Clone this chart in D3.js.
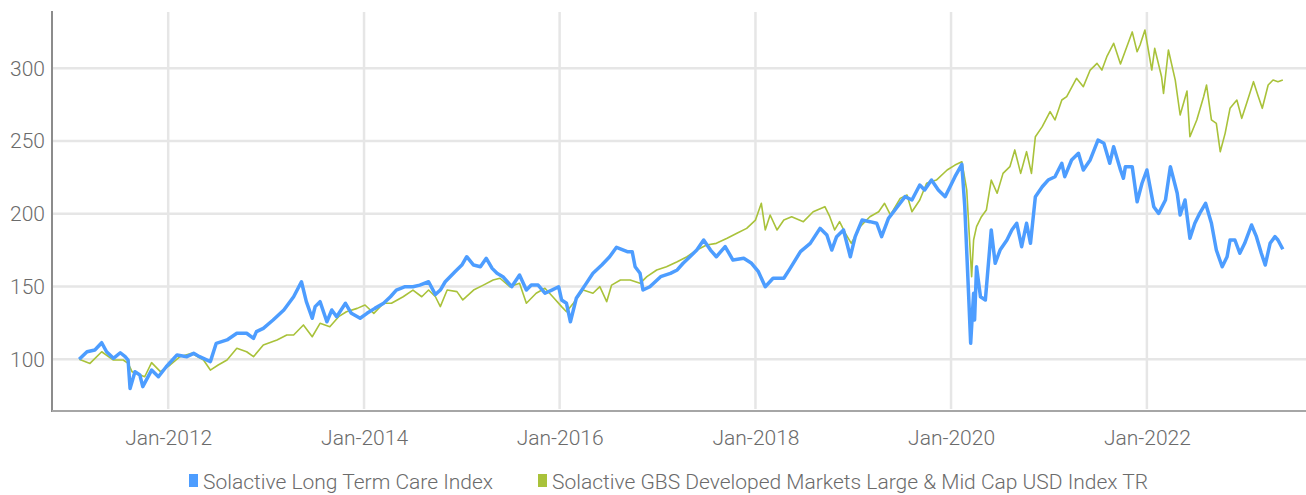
<!DOCTYPE html>
<html>
<head>
<meta charset="utf-8">
<script src="https://cdn.jsdelivr.net/npm/d3@7"></script>
<style>
    body { margin: 0; background: #fff; }
    text { font-family: Roboto, "DejaVu Sans Condensed", sans-serif; font-weight: 300; fill: #6b6b6b; }
</style>
</head>
<body>
<div id="chart"></div>
<script>
//** Long Term Care index vs developed markets (rebased to 100) */

var seriesNames = ["Solactive Long Term Care Index", "Solactive GBS Developed Markets Large & Mid Cap USD Index TR"];

// dates as decimal years
var careYears = [2011.09, 2011.17, 2011.25, 2011.32, 2011.37, 2011.44, 2011.51, 2011.56, 2011.59, 2011.61,
    2011.66, 2011.71, 2011.74, 2011.83, 2011.90, 2011.98, 2012.09, 2012.19, 2012.26, 2012.32,
    2012.43, 2012.49, 2012.60, 2012.70, 2012.80, 2012.87, 2012.90, 2012.97, 2013.07, 2013.18,
    2013.28, 2013.36, 2013.41, 2013.47, 2013.50, 2013.55, 2013.62, 2013.67, 2013.72, 2013.81,
    2013.87, 2013.96, 2014.03, 2014.11, 2014.20, 2014.27, 2014.33, 2014.42, 2014.50, 2014.57,
    2014.66, 2014.73, 2014.78, 2014.83, 2014.93, 2015.00, 2015.05, 2015.12, 2015.19, 2015.25,
    2015.31, 2015.36, 2015.42, 2015.51, 2015.59, 2015.66, 2015.71, 2015.78, 2015.85, 2015.92,
    2015.99, 2016.02, 2016.07, 2016.11, 2016.17, 2016.26, 2016.34, 2016.43, 2016.51, 2016.58,
    2016.69, 2016.74, 2016.77, 2016.82, 2016.85, 2016.92, 2017.03, 2017.13, 2017.20, 2017.26,
    2017.33, 2017.40, 2017.47, 2017.54, 2017.60, 2017.69, 2017.77, 2017.88, 2017.96, 2018.03,
    2018.10, 2018.18, 2018.29, 2018.35, 2018.46, 2018.56, 2018.66, 2018.73, 2018.78, 2018.83,
    2018.90, 2018.97, 2019.02, 2019.09, 2019.17, 2019.24, 2019.29, 2019.36, 2019.44, 2019.53,
    2019.60, 2019.68, 2019.73, 2019.80, 2019.87, 2019.94, 2019.99, 2020.04, 2020.11, 2020.14,
    2020.18, 2020.20, 2020.23, 2020.24, 2020.26, 2020.30, 2020.35, 2020.41, 2020.45, 2020.50,
    2020.57, 2020.62, 2020.67, 2020.72, 2020.77, 2020.81, 2020.86, 2020.93, 2020.99, 2021.06,
    2021.13, 2021.16, 2021.23, 2021.30, 2021.35, 2021.42, 2021.50, 2021.56, 2021.62, 2021.66,
    2021.73, 2021.76, 2021.78, 2021.85, 2021.90, 2021.95, 2022.00, 2022.07, 2022.12, 2022.19,
    2022.24, 2022.31, 2022.34, 2022.39, 2022.44, 2022.49, 2022.54, 2022.60, 2022.66, 2022.71,
    2022.77, 2022.82, 2022.85, 2022.90, 2022.95, 2023.00, 2023.07, 2023.12, 2023.17, 2023.21,
    2023.26, 2023.31, 2023.34, 2023.39];
var careValues = [100, 105.2, 106.4, 111.4, 105.2, 100.7, 104.5, 101.8, 99.5, 80,
    91.5, 89.2, 81.2, 92.6, 88, 94.9, 103, 101.8, 104.1, 101.8,
    98.4, 111, 113.3, 117.9, 117.9, 114.4, 119, 121.3, 127, 133.9,
    143, 153.3, 139.6, 128.2, 136.2, 139.6, 125.8, 133.9, 129.3, 138.5,
    131.6, 128.2, 131.6, 135, 138.5, 143, 147.6, 149.9, 149.9, 151,
    153.3, 144.5, 147.6, 153.3, 160.2, 164.8, 170.5, 164.8, 163.6, 169.4,
    162.5, 159.1, 156.8, 149.9, 157.9, 147.6, 151, 151, 145.4, 147.6,
    149.9, 140.8, 138.5, 125.8, 141.9, 151, 159.1, 164.8, 170.5, 177,
    174, 174, 163.6, 159.1, 147.6, 149.9, 156.8, 159.1, 161.4, 166,
    170.5, 175.1, 182, 175.1, 170.5, 177.4, 168.2, 169.4, 166, 160.2,
    149.9, 155.7, 155.7, 162, 174, 179.7, 190, 185.4, 175.1, 184.3,
    188.9, 170.5, 184.3, 195.7, 194.6, 193.5, 184.3, 196.9, 203.8, 211.8,
    209.5, 219.8, 216.4, 223.2, 216.4, 211.8, 218.6, 225.5, 234, 204.9,
    143, 111, 145.4, 127, 163.6, 143, 140.8, 188.9, 166, 175.1,
    182, 188.9, 193.5, 177.4, 193.5, 179.7, 211.8, 218.6, 223.2, 225.5,
    234.7, 225.5, 237, 241.6, 230.1, 237, 250.7, 248.5, 234.7, 246.1,
    230.1, 224.4, 232.4, 232.4, 208.3, 221, 230.1, 204.9, 200.3, 209.5,
    232.4, 214.1, 199.2, 209.5, 183.2, 193.5, 200.3, 207.2, 193.5, 175.1,
    163.6, 170.5, 182, 182, 172.9, 179.7, 192.3, 184.3, 172.9, 164.8,
    179.7, 184.3, 182, 175.6];

var marketYears = [2011.09, 2011.20, 2011.32, 2011.44, 2011.54, 2011.59, 2011.63, 2011.76, 2011.83, 2011.92,
    2012.02, 2012.12, 2012.24, 2012.36, 2012.43, 2012.51, 2012.60, 2012.70, 2012.80, 2012.87,
    2012.97, 2013.11, 2013.21, 2013.28, 2013.38, 2013.47, 2013.55, 2013.65, 2013.74, 2013.82,
    2013.93, 2014.01, 2014.10, 2014.20, 2014.28, 2014.40, 2014.50, 2014.59, 2014.66, 2014.73,
    2014.78, 2014.85, 2014.95, 2015.01, 2015.12, 2015.22, 2015.32, 2015.39, 2015.49, 2015.59,
    2015.66, 2015.76, 2015.85, 2015.93, 2016.02, 2016.07, 2016.14, 2016.24, 2016.34, 2016.41,
    2016.48, 2016.53, 2016.62, 2016.72, 2016.82, 2016.89, 2016.99, 2017.09, 2017.20, 2017.30,
    2017.40, 2017.50, 2017.60, 2017.71, 2017.81, 2017.91, 2018.00, 2018.06, 2018.10, 2018.15,
    2018.22, 2018.29, 2018.37, 2018.49, 2018.59, 2018.71, 2018.76, 2018.81, 2018.86, 2018.92,
    2018.98, 2019.07, 2019.17, 2019.26, 2019.32, 2019.38, 2019.48, 2019.55, 2019.60, 2019.68,
    2019.75, 2019.85, 2019.96, 2020.04, 2020.11, 2020.16, 2020.21, 2020.23, 2020.26, 2020.31,
    2020.36, 2020.41, 2020.47, 2020.53, 2020.60, 2020.65, 2020.71, 2020.77, 2020.82, 2020.86,
    2020.93, 2021.01, 2021.06, 2021.13, 2021.18, 2021.28, 2021.35, 2021.42, 2021.49, 2021.54,
    2021.59, 2021.66, 2021.73, 2021.85, 2021.90, 2021.93, 2021.98, 2022.05, 2022.08, 2022.15,
    2022.17, 2022.22, 2022.29, 2022.34, 2022.41, 2022.44, 2022.51, 2022.58, 2022.61, 2022.66,
    2022.71, 2022.75, 2022.80, 2022.85, 2022.92, 2022.97, 2023.02, 2023.09, 2023.14, 2023.18,
    2023.24, 2023.29, 2023.34, 2023.39];
var marketValues = [100, 97.2, 105.2, 99.5, 99.5, 97.2, 91.5, 88, 97.7, 91.5,
    96.1, 101.8, 104.1, 99.5, 92.6, 96.1, 99.5, 107.6, 105.2, 101.8,
    109.8, 113.3, 116.7, 116.7, 123.6, 115.5, 124.7, 122.4, 129.3, 132.7,
    135, 137.3, 131.6, 138.5, 138.5, 143, 147.6, 143, 147.6, 143,
    136.2, 147.6, 146.5, 140.8, 147.6, 151, 154.5, 155.7, 149.9, 152.2,
    138.5, 145.4, 148.8, 143, 136.2, 132.7, 138.5, 147.6, 145.4, 149.9,
    139.6, 151, 154.5, 154.5, 152.2, 156.8, 161.4, 163.6, 167.1, 170.5,
    175.1, 178.6, 179.7, 183.2, 186.6, 190, 195.7, 207.2, 188.9, 199.2,
    188.9, 195.7, 198, 194.6, 201.4, 204.9, 198, 188.9, 194.6, 186.6,
    179.7, 191.2, 198, 201.4, 207.2, 199.2, 210.6, 212.9, 201.4, 209.5,
    221, 223.2, 230.1, 233.5, 235.8, 216.4, 156.8, 182, 191.2, 198,
    202.6, 223.2, 214.1, 227.8, 232.4, 243.9, 227.8, 242.7, 227.8, 253,
    259.9, 270.2, 264.5, 278.2, 280.5, 293.1, 287.4, 298.8, 303.4, 298.8,
    308, 317.2, 303, 325, 311.4, 316, 326.3, 298.8, 313.7, 294.2,
    282.8, 312.6, 291.9, 267.9, 284.4, 253, 264.5, 280.5, 288.5, 264.5,
    262.2, 242.7, 255.3, 272.5, 278.2, 265.6, 276, 290.8, 280.5, 272.5,
    288.5, 292, 290.8, 292];

var yTicks = [100, 150, 200, 250, 300];
var xTickYears = [2012, 2014, 2016, 2018, 2020, 2022];

function yearToDate(t) {
    var y = Math.floor(t);
    var a = Date.UTC(y, 0, 1);
    var b = Date.UTC(y + 1, 0, 1);
    return new Date(a + (t - y) * (b - a));
}

function makeChart() {
    var svgWidth = 1306;
    var svgHeight = 495;

    var plot = { left: 53, right: 1306, top: 12, bottom: 411 };

    var svg = d3
        .select("#chart")
        .append("svg")
        .attr("width", svgWidth)
        .attr("height", svgHeight);

    // scales
    var xScale = d3
        .scaleUtc()
        .domain([yearToDate(2010.822), yearToDate(2023.627)])
        .range([plot.left, plot.right]);
    var yScale = d3
        .scaleLinear()
        .domain([64.47, 338.7])
        .range([plot.bottom, plot.top]);

    var careData = careYears.map((t, i) => ({ date: yearToDate(t), value: careValues[i] }));
    var marketData = marketYears.map((t, i) => ({ date: yearToDate(t), value: marketValues[i] }));
    var tickDates = xTickYears.map((y) => yearToDate(y));

    // gridlines
    svg.append("g")
        .selectAll("line")
        .data(yTicks)
        .join("line")
        .attr("x1", plot.left)
        .attr("x2", plot.right)
        .attr("y1", (d) => yScale(d))
        .attr("y2", (d) => yScale(d))
        .attr("stroke", "#e6e6e6")
        .attr("stroke-width", 2.5);
    svg.append("g")
        .selectAll("line")
        .data(tickDates)
        .join("line")
        .attr("x1", (d) => xScale(d))
        .attr("x2", (d) => xScale(d))
        .attr("y1", plot.top)
        .attr("y2", plot.bottom - 2)
        .attr("stroke", "#e6e6e6")
        .attr("stroke-width", 2.5);

    // axes
    var yAxis = d3.axisLeft(yScale).tickValues(yTicks).tickSize(0).tickPadding(7);
    var xAxis = d3.axisBottom(xScale).tickValues(tickDates).tickSize(0).tickPadding(19)
        .tickFormat(d3.utcFormat("%b-%Y"));

    var gy = svg.append("g").attr("transform", `translate(${plot.left - 1}, 0)`).call(yAxis);
    var gx = svg.append("g").attr("transform", `translate(0, ${plot.bottom})`).call(xAxis);
    gy.select(".domain").remove();
    gx.select(".domain").remove();
    svg.selectAll(".tick text")
        .attr("font-family", null)
        .attr("font-size", 21)
        .attr("fill", "#6b6b6b");

    svg.append("line")
        .attr("x1", plot.left - 1).attr("x2", plot.left - 1)
        .attr("y1", plot.top - 1).attr("y2", plot.bottom + 1)
        .attr("stroke", "#8c8c8c").attr("stroke-width", 2);
    svg.append("line")
        .attr("x1", plot.left - 1).attr("x2", plot.right)
        .attr("y1", plot.bottom).attr("y2", plot.bottom)
        .attr("stroke", "#a6a6a6").attr("stroke-width", 2);

    // lines
    var line = d3.line()
        .x((d) => xScale(d.date))
        .y((d) => yScale(d.value));

    svg.append("path")
        .datum(marketData)
        .attr("fill", "none")
        .attr("stroke", "#a9c23a")
        .attr("stroke-width", 1.6)
        .attr("stroke-linejoin", "round")
        .attr("d", line);
    svg.append("path")
        .datum(careData)
        .attr("fill", "none")
        .attr("stroke", "#4d9dff")
        .attr("stroke-width", 3.5)
        .attr("stroke-linejoin", "round")
        .attr("d", line);

    // legend
    var legendItems = [
        { name: seriesNames[0], color: "#4d9dff", x: 189 },
        { name: seriesNames[1], color: "#a9c23a", x: 538 },
    ];
    var legend = svg.append("g")
        .selectAll("g")
        .data(legendItems)
        .join("g")
        .attr("transform", (d) => `translate(${d.x}, 0)`);
    legend.append("rect")
        .attr("x", 0).attr("y", 474)
        .attr("width", 9).attr("height", 13)
        .attr("fill", (d) => d.color);
    legend.append("text")
        .attr("x", 14).attr("y", 489)
        .attr("font-size", 21)
        .text((d) => d.name);
}

makeChart();
</script>
</body>
</html>
